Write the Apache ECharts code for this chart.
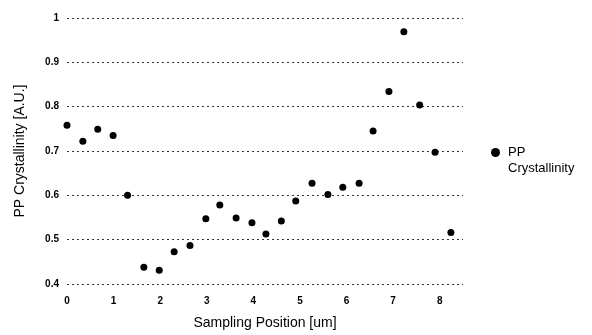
<!DOCTYPE html>
<html>
<head>
<meta charset="utf-8">
<script src="https://cdn.jsdelivr.net/npm/echarts@6/dist/echarts.min.js"></script>
<style>
  html, body { margin: 0; padding: 0; background: #fff; }
  #chart { width: 592px; height: 335px; }
</style>
</head>
<body>
<div id="chart"></div>
<script>
  // sampling positions [um] and crystallinity
  var positions = [0, 0.34, 0.66, 0.99, 1.3, 1.65, 1.98, 2.3, 2.64, 2.98, 3.28, 3.63, 3.97,
    4.27, 4.6, 4.91, 5.26, 5.6, 5.92, 6.27, 6.57, 6.91, 7.23, 7.57, 7.9, 8.24];
  var crystallinity = [0.758, 0.722, 0.749, 0.735, 0.6, 0.438, 0.431, 0.473, 0.487, 0.547, 0.578,
    0.549, 0.538, 0.513, 0.542, 0.587, 0.627, 0.602, 0.618, 0.627, 0.745, 0.834, 0.969, 0.804,
    0.697, 0.516];
  var seriesName = "PP Crystallinity";

  var chart = echarts.init(document.getElementById("chart"));
  var points = positions.map(function (x, i) { return [x, crystallinity[i]]; });

  var option = {
    animation: false,
    textStyle: { fontFamily: "Liberation Sans, Arial, sans-serif" },
    grid: { left: 67, right: 129, top: 18, bottom: 47 },
    legend: {
      orient: "vertical",
      left: 486,
      top: 140,
      itemWidth: 9,
      itemHeight: 9,
      icon: "circle",
      data: [seriesName],
      // the legend wraps its name onto two lines with the dot beside the first
      formatter: function () { return "PP"; },
      itemStyle: { color: "#000", opacity: 1 },
      textStyle: { fontSize: 13, color: "#000", lineHeight: 15, padding: [0, 0, 0, 3] }
    },
    graphic: [
      {
        type: "text",
        left: 508,
        top: 162,
        silent: true,
        style: {
          text: "Crystallinity",
          font: "13px 'Liberation Sans', Arial, sans-serif",
          fill: "#000"
        }
      }
    ],
    xAxis: {
      type: "value",
      min: 0,
      max: 8.5,
      interval: 1,
      name: "Sampling Position [um]",
      nameLocation: "middle",
      nameGap: 32,
      nameTextStyle: { fontSize: 14, color: "#000" },
      axisLine: { show: false },
      axisTick: { show: false },
      splitLine: { show: false },
      axisLabel: {
        fontSize: 10, fontWeight: "bold", color: "#000", margin: 12,
        showMaxLabel: false
      }
    },
    yAxis: {
      type: "value",
      min: 0.4,
      max: 1,
      interval: 0.1,
      name: "PP Crystallinity [A.U.]",
      nameLocation: "middle",
      nameGap: 40,
      nameTextStyle: { fontSize: 14, color: "#000" },
      axisLine: { show: false },
      axisTick: { show: false },
      axisLabel: {
        fontSize: 10, fontWeight: "bold", color: "#000", margin: 8,
        formatter: function (v) { return String(+v.toFixed(1)); }
      },
      splitLine: {
        show: true,
        lineStyle: { color: "#333", type: [2, 3], width: 1 }
      }
    },
    series: [
      {
        name: seriesName,
        type: "scatter",
        data: points,
        symbol: "circle",
        symbolSize: 7,
        itemStyle: { color: "#000", opacity: 1 }
      }
    ]
  };
  chart.setOption(option);
</script>
</body>
</html>
